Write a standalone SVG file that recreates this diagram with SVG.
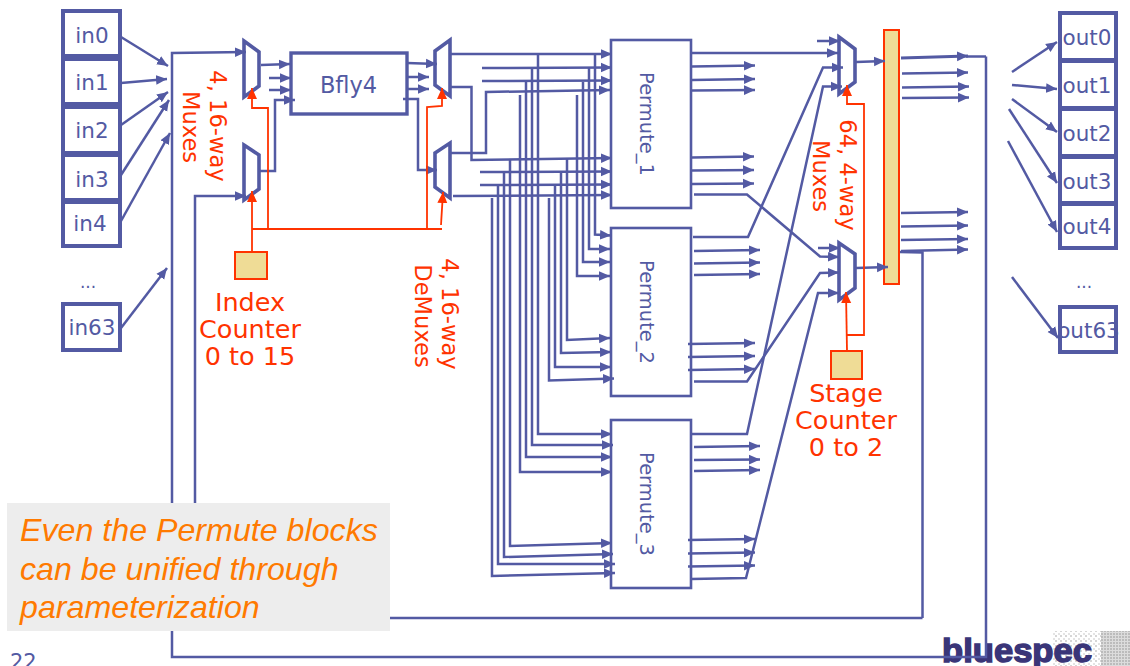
<svg xmlns="http://www.w3.org/2000/svg" width="1130" height="666" viewBox="0 0 1130 666">
<style>
.box{fill:#fff;stroke:#535AA3;stroke-width:4}
.pm{fill:#fff;stroke:#535AA3;stroke-width:2.6}
.mux{fill:#fff;stroke:#535AA3;stroke-width:3.6;stroke-linejoin:miter}
.lbl{font-family:"DejaVu Sans",Verdana,sans-serif;font-size:21.5px;fill:#535AA3;text-anchor:middle}
.rot{font-family:"DejaVu Sans",Verdana,sans-serif;font-size:19.5px;fill:#535AA3;text-anchor:middle}
.red{font-family:"DejaVu Sans",Verdana,sans-serif;font-size:22.6px;fill:#FF3300;text-anchor:middle}
.redb{font-family:"DejaVu Sans",Verdana,sans-serif;font-size:25.5px;fill:#FF3300;text-anchor:middle}
.yel{fill:#EFDC96;stroke:#FF3300;stroke-width:2}
.c polyline,.c line{fill:none;stroke:#535AA3;stroke-width:2.5}
.c .a{marker-end:url(#ah)}
.r polyline,.r line{fill:none;stroke:#FF3300;stroke-width:1.8}
.r .a{marker-end:url(#rh)}
.note{font-family:"Liberation Sans",Arial,sans-serif;font-style:italic;font-size:32.2px;fill:#FF7A00}
</style>
<defs>
<marker id="ah" markerUnits="userSpaceOnUse" markerWidth="12" markerHeight="12" refX="11" refY="6" orient="auto"><path d="M0 1.2L11 6L0 10.8Z" fill="#535AA3"/></marker>
<marker id="rh" markerUnits="userSpaceOnUse" markerWidth="12" markerHeight="12" refX="11" refY="6" orient="auto"><path d="M0 1L11 6L0 11Z" fill="#FF3300"/></marker>
<pattern id="dots" width="5" height="5" patternUnits="userSpaceOnUse"><rect width="2" height="2" fill="#d6d6d6"/><rect x="3" y="3" width="2" height="2" fill="#e4e4e4"/></pattern>
<pattern id="dots2" width="3" height="3" patternUnits="userSpaceOnUse"><rect width="3" height="3" fill="#dcdcdc"/><rect width="2" height="2" fill="#bcbcbc"/></pattern>
</defs>

<g id="logo">
<rect x="1053" y="631" width="48" height="35" fill="url(#dots)"/>
<rect x="1101" y="631" width="29" height="35" fill="url(#dots2)"/>
<text x="942" y="662" font-family="'Liberation Sans',Arial,sans-serif" font-weight="700" font-size="33" fill="#3A3578" stroke="#3A3578" stroke-width="1.4" textLength="150" lengthAdjust="spacingAndGlyphs">bluespec</text>
</g>

<g id="in0"><rect class="box" x="63" y="11" width="57" height="45"/><text class="lbl" x="92" y="43">in0</text></g>
<g id="in1"><rect class="box" x="63" y="59" width="57" height="45"/><text class="lbl" x="92" y="90">in1</text></g>
<g id="in2"><rect class="box" x="63" y="107" width="57" height="46"/><text class="lbl" x="92" y="138">in2</text></g>
<g id="in3"><rect class="box" x="63" y="155" width="57" height="45"/><text class="lbl" x="92" y="187">in3</text></g>
<g id="in4"><rect class="box" x="63" y="202" width="57" height="44"/><text class="lbl" x="90" y="231">in4</text></g>
<g id="in63"><rect class="box" x="63" y="304" width="57" height="46"/><text class="lbl" x="92" y="335">in63</text></g>
<text class="lbl" x="88" y="288" style="font-size:17px">...</text>

<g id="mux1"><polygon class="mux" points="244,41 259,52 259,86 244,97"/></g>
<g id="mux2"><polygon class="mux" points="244,145 259,155 259,189 244,200"/></g>
<g id="bfly4"><rect x="291" y="53" width="116" height="61" fill="#fff" stroke="#535AA3" stroke-width="3.4"/><text class="lbl" x="348.500" y="93" style="font-size:22.5px">Bfly4</text></g>
<g id="demux1"><polygon class="mux" points="435,51 450,40 450,96 435,85"/></g>
<g id="demux2"><polygon class="mux" points="435,153 450,143 450,198 435,187"/></g>

<g id="permute1"><rect class="pm" x="611" y="40" width="80" height="168"/><text class="rot" transform="translate(640,124) rotate(90)">Permute_1</text></g>
<g id="permute2"><rect class="pm" x="611" y="228" width="80" height="168"/><text class="rot" transform="translate(640,312) rotate(90)">Permute_2</text></g>
<g id="permute3"><rect class="pm" x="611" y="420" width="80" height="168"/><text class="rot" transform="translate(640,504) rotate(90)">Permute_3</text></g>

<g id="mux3"><polygon class="mux" points="839,37 855,49 855,82 839,94"/></g>
<g id="mux4"><polygon class="mux" points="839,243 855,254 855,288 839,300"/></g>
<g id="bar"><rect class="yel" x="884" y="30" width="15" height="254"/></g>

<g id="out0"><rect class="box" x="1060" y="13" width="56" height="47"/><text class="lbl" x="1087" y="45">out0</text></g>
<g id="out1"><rect class="box" x="1060" y="61" width="56" height="47"/><text class="lbl" x="1087" y="93">out1</text></g>
<g id="out2"><rect class="box" x="1060" y="109" width="56" height="47"/><text class="lbl" x="1087" y="141">out2</text></g>
<g id="out3"><rect class="box" x="1060" y="157" width="56" height="46"/><text class="lbl" x="1087" y="189">out3</text></g>
<g id="out4"><rect class="box" x="1060" y="204" width="56" height="44"/><text class="lbl" x="1087" y="234">out4</text></g>
<g id="out63"><rect class="box" x="1060" y="307" width="56" height="45"/><text class="lbl" x="1088.500" y="338">out63</text></g>
<text class="lbl" x="1084" y="288" style="font-size:17px">...</text>

<g id="connectors" class="c">
<line class="a" x1="121" y1="37" x2="168" y2="66"/>
<line class="a" x1="121" y1="83" x2="167" y2="79"/>
<line class="a" x1="121" y1="125" x2="168" y2="92"/>
<line class="a" x1="121" y1="175" x2="169" y2="100"/>
<line class="a" x1="121" y1="221" x2="170" y2="133"/>
<line class="a" x1="121" y1="328" x2="167" y2="268"/>
<polyline class="a" points="986,56.5 986,657 172,657 172,53 246,52"/>
<polyline class="a" points="922.5,618 195,618 195,196 246,196"/>
<polyline points="900,252 922.5,252.5 922.5,618"/>
<line x1="966" y1="56.5" x2="986" y2="56.5"/>
<line class="a" x1="261" y1="65" x2="290" y2="64"/>
<line class="a" x1="269" y1="78" x2="291" y2="78"/>
<line class="a" x1="269" y1="90" x2="291" y2="90"/>
<polyline class="a" points="260,171 275,171 275,100 295,100"/>
<line class="a" x1="407" y1="63" x2="437" y2="64"/>
<line class="a" x1="407" y1="77" x2="429" y2="77"/>
<line class="a" x1="407" y1="89" x2="429" y2="89"/>
<polyline class="a" points="403,99 418,99 418,170 437,170"/>

<line class="a" x1="451" y1="54" x2="612" y2="54"/>
<line class="a" x1="482" y1="68" x2="612" y2="67.5"/>
<line class="a" x1="482" y1="81" x2="612" y2="80.5"/>
<polyline class="a" points="451,153 486,153 486,92 610,90"/>
<polyline class="a" points="451,87 471.5,87 471.5,160 612,158"/>
<line class="a" x1="480" y1="172" x2="612" y2="171.5"/>
<line class="a" x1="480" y1="185" x2="612" y2="184.5"/>
<line class="a" x1="453" y1="196" x2="612" y2="195"/>

<polyline class="a" points="595,54 595,234.5 611,235.5"/>
<polyline class="a" points="589,68 589,249 610,249"/>
<polyline class="a" points="583,82 583,262 610,262"/>
<polyline class="a" points="577,95 577,276 610,276"/>
<polyline class="a" points="567,159 567,340 610,338"/>
<polyline class="a" points="561,172 561,353 611,352"/>
<polyline class="a" points="555,185 555,367 611,367"/>
<polyline class="a" points="549,198 549,380.5 614,378.5"/>
<polyline class="a" points="538,54 538,434 612,434"/>
<polyline class="a" points="532,68 532,445 613,445"/>
<polyline class="a" points="526,82 526,457 612,457"/>
<polyline class="a" points="520,95 520,472 612,472"/>
<polyline class="a" points="510,159 510,546 612,543"/>
<polyline class="a" points="504,172 504,557 613,554"/>
<polyline class="a" points="498,185 498,564 615,564"/>
<polyline class="a" points="492,198 492,576 615,573"/>

<line class="a" x1="692" y1="53" x2="838" y2="53"/>
<line class="a" x1="692" y1="66.5" x2="755" y2="65.5"/>
<line class="a" x1="692" y1="80" x2="755" y2="79"/>
<line class="a" x1="692" y1="90.5" x2="755" y2="90"/>
<line class="a" x1="692" y1="157.5" x2="754" y2="156.5"/>
<line class="a" x1="692" y1="170.5" x2="754" y2="170"/>
<line class="a" x1="692" y1="184" x2="754" y2="183.5"/>
<polyline class="a" points="694,194.5 747,194.5 820,256.5 839,257"/>
<polyline class="a" points="693,237 748,237 823,67.5 843,67.5"/>
<line class="a" x1="694" y1="251" x2="760" y2="250"/>
<line class="a" x1="694" y1="263.5" x2="760" y2="262.5"/>
<line class="a" x1="694" y1="275" x2="760" y2="274"/>
<line class="a" x1="688" y1="344" x2="755" y2="343"/>
<line class="a" x1="688" y1="357" x2="755" y2="356"/>
<line class="a" x1="688" y1="370" x2="755" y2="369"/>
<polyline class="a" points="694,381.5 747,381.5 820,273 839,272.5"/>
<polyline class="a" points="691,434 747,434 823,86.5 842,86.5"/>
<line class="a" x1="694" y1="447" x2="760" y2="446"/>
<line class="a" x1="694" y1="460" x2="760" y2="459.5"/>
<line class="a" x1="694" y1="471" x2="760" y2="470"/>
<line class="a" x1="688" y1="540" x2="755" y2="539"/>
<line class="a" x1="688" y1="553.5" x2="755" y2="552.5"/>
<line class="a" x1="688" y1="566.5" x2="755" y2="565.5"/>
<polyline class="a" points="691,579 746,578 818,293 839,293"/>
<line class="a" x1="817" y1="41" x2="840" y2="41"/>
<line class="a" x1="818" y1="248" x2="840" y2="248"/>
<line class="a" x1="856" y1="62" x2="885" y2="61"/>
<line class="a" x1="856" y1="268" x2="888" y2="267"/>

<line class="a" x1="901" y1="58" x2="968" y2="56" style="stroke-width:3"/>
<line class="a" x1="902" y1="73.5" x2="968" y2="72.5"/>
<line class="a" x1="902" y1="87.5" x2="969" y2="86.5"/>
<line class="a" x1="902" y1="98" x2="969" y2="97.5"/>
<line class="a" x1="901" y1="213" x2="968" y2="212"/>
<line class="a" x1="901" y1="226.5" x2="968" y2="225.5"/>
<line class="a" x1="901" y1="240" x2="968" y2="239"/>
<line class="a" x1="901" y1="251" x2="968" y2="249.5"/>

<line class="a" x1="1012" y1="72" x2="1057" y2="42"/>
<line class="a" x1="1012" y1="85" x2="1057" y2="89"/>
<line class="a" x1="1012" y1="99" x2="1057" y2="132"/>
<line class="a" x1="1009" y1="109" x2="1057" y2="183"/>
<line class="a" x1="1008" y1="141" x2="1057" y2="232"/>
<line class="a" x1="1012" y1="277" x2="1058" y2="338"/>
</g>

<g id="control" class="r">
<polyline class="a" points="252,252 252,191"/>
<polyline class="a" points="252,229 268,229 268,108 252,108 252,88"/>
<polyline points="252,229 442,229"/>
<polyline class="a" points="427,229 427,107 442,106 442,88"/>
<polyline class="a" points="441,225 443,192"/>
<polyline class="a" points="847,351 846,292"/>
<polyline class="a" points="847,335 864,335 864,104 847,104 847,85"/>
</g>

<g id="index-counter"><rect class="yel" x="235" y="252" width="32" height="27"/>
<text class="redb" x="250" y="311">Index</text><text class="redb" x="250" y="338">Counter</text><text class="redb" x="250" y="365">0 to 15</text></g>
<g id="stage-counter"><rect class="yel" x="831" y="351" width="31" height="28"/>
<text class="redb" x="846" y="402">Stage</text><text class="redb" x="846" y="429">Counter</text><text class="redb" x="846" y="456">0 to 2</text></g>

<g id="red-labels">
<text class="red" transform="translate(210,126) rotate(90)">4, 16-way</text>
<text class="red" transform="translate(183,127) rotate(90)">Muxes</text>
<text class="red" transform="translate(442,314) rotate(90)">4, 16-way</text>
<text class="red" transform="translate(415,316) rotate(90)">DeMuxes</text>
<text class="red" transform="translate(840,175) rotate(90)">64, 4-way</text>
<text class="red" transform="translate(813,176) rotate(90)">Muxes</text>
</g>

<g id="callout"><rect x="7" y="503" width="383" height="128" fill="#EDEDED"/>
<text class="note" x="20" y="541">Even the Permute blocks</text>
<text class="note" x="20" y="580">can be unified through</text>
<text class="note" x="20" y="618">parameterization</text></g>

<text x="10" y="669" font-family="'DejaVu Sans',Verdana,sans-serif" font-size="21" fill="#535AA3">22</text>
</svg>
